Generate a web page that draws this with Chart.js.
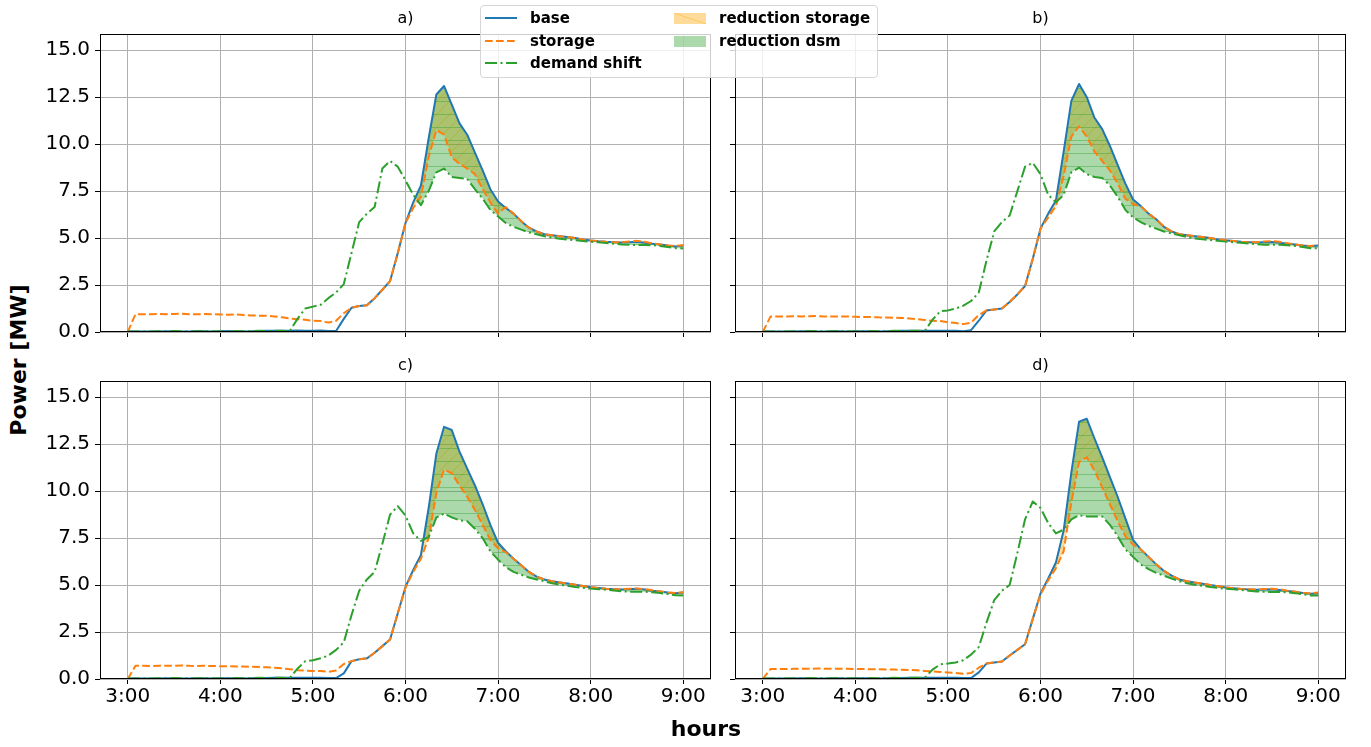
<!DOCTYPE html>
<html>
<head>
<meta charset="utf-8">
<script src="https://cdn.jsdelivr.net/npm/chart.js@4/dist/chart.umd.min.js"></script>
<style>
  body { margin: 0; background: #fff; }
  #fig { position: relative; width: 1371px; height: 747px; overflow: hidden; font-family: "DejaVu Sans", sans-serif; }
  #fig canvas { position: absolute; }
  .sup { position: absolute; font-weight: bold; font-size: 22px; color: #000; white-space: nowrap; }
  #legend { position: absolute; left: 480px; top: 5px; width: 396px; height: 71px; border: 1px solid #d6d6d6; border-radius: 4px; background: rgba(255,255,255,0.8); z-index: 5; }
  .item { position: absolute; font-weight: bold; font-size: 15px; color: #000; white-space: nowrap; line-height: 18px; }
  .item svg, .item span.patch { position: absolute; top: 4px; }
  .item span.txt { position: absolute; }
</style>
</head>
<body>
<div id="fig">
  <canvas id="chartA"></canvas>
  <canvas id="chartB"></canvas>
  <canvas id="chartC"></canvas>
  <canvas id="chartD"></canvas>
  <div class="sup" style="left:706px; top:728px; transform:translate(-50%,-50%);">hours</div>
  <div class="sup" style="left:18px; top:360px; transform:translate(-50%,-50%) rotate(-90deg);">Power [MW]</div>
  <div id="legend"></div>
</div>
<script>
// sampling: every 5 minutes from 3:00 to 9:00
const times = Array.from({ length: 73 }, (_, i) => 3 + i * 5 / 60);
const hourTicks = [3, 4, 5, 6, 7, 8, 9];
const hourLabels = ['3:00', '4:00', '5:00', '6:00', '7:00', '8:00', '9:00'];
const powerTicks = [0, 2.5, 5, 7.5, 10, 12.5, 15];
const powerLabels = ['0.0', '2.5', '5.0', '7.5', '10.0', '12.5', '15.0'];
const seriesNames = ['base', 'storage', 'demand shift'];
const fillNames = ['reduction storage', 'reduction dsm'];
const panelTitles = ['a)', 'b)', 'c)', 'd)'];

const baseA = [
  0.02, 0.02, 0.03, 0.02, 0.03, 0.04, 0.03, 0.02, 0.03, 0.05, 0.04, 0.03,
  0.04, 0.05, 0.04, 0.03, 0.04, 0.05, 0.06, 0.07, 0.06, 0.07, 0.08, 0.07,
  0.06, 0.08, 0.05, 0.05, 0.7, 1.29, 1.38, 1.42, 1.8, 2.25, 2.71, 4.2,
  5.8, 6.9, 7.8, 10.3, 12.64, 13.09, 12.1, 11.1, 10.5, 9.55, 8.6, 7.6,
  6.95, 6.6, 6.3, 5.9, 5.55, 5.35, 5.2, 5.15, 5.1, 5.05, 5.0, 4.92,
  4.87, 4.83, 4.8, 4.78, 4.76, 4.78, 4.8, 4.75, 4.7, 4.66, 4.6, 4.55, 4.6];
const storageA = [
  0, 0.95, 0.95, 0.94, 0.96, 0.95, 0.96, 0.97, 0.95, 0.94, 0.96, 0.95,
  0.93, 0.92, 0.93, 0.9, 0.88, 0.87, 0.86, 0.83, 0.78, 0.72, 0.68, 0.65,
  0.6, 0.58, 0.5, 0.6, 1.0, 1.29, 1.38, 1.42, 1.8, 2.25, 2.71, 4.2,
  5.8, 6.6, 7.2, 9.3, 10.75, 10.5, 9.3, 8.95, 8.7, 8.4, 7.6, 6.9,
  6.3, 6.65, 6.3, 5.9, 5.55, 5.35, 5.2, 5.15, 5.1, 5.05, 5.0, 4.92,
  4.87, 4.83, 4.8, 4.78, 4.78, 4.82, 4.85, 4.8, 4.72, 4.66, 4.6, 4.58, 4.62];
const dsmA = [
  0.02, 0.03, 0.02, 0.03, 0.04, 0.03, 0.05, 0.04, 0.03, 0.04, 0.05, 0.04,
  0.03, 0.04, 0.05, 0.04, 0.05, 0.06, 0.05, 0.06, 0.07, 0.05, 0.7, 1.25,
  1.35, 1.45, 1.8, 2.1, 2.55, 4.2, 5.85, 6.3, 6.65, 8.7, 9.1, 8.8,
  8.07, 7.3, 6.75, 7.5, 8.5, 8.7, 8.25, 8.2, 8.15, 7.6, 7.1, 6.5,
  6.15, 5.8, 5.6, 5.45, 5.3, 5.2, 5.1, 5.02, 4.96, 4.92, 4.88, 4.84,
  4.8, 4.77, 4.74, 4.7, 4.66, 4.64, 4.63, 4.63, 4.62, 4.58, 4.52, 4.46, 4.45];

const baseB = [
  0.02, 0.02, 0.03, 0.02, 0.03, 0.04, 0.03, 0.02, 0.03, 0.04, 0.04, 0.03,
  0.04, 0.04, 0.04, 0.03, 0.04, 0.05, 0.06, 0.06, 0.06, 0.07, 0.07, 0.06,
  0.06, 0.07, 0.04, 0.1, 0.6, 1.15, 1.2, 1.25, 1.6, 2.0, 2.45, 3.9,
  5.5, 6.3, 7.0, 9.6, 12.3, 13.2, 12.5, 11.4, 10.8, 9.9, 8.9, 7.9,
  7.05, 6.7, 6.3, 6.0, 5.6, 5.35, 5.2, 5.15, 5.1, 5.05, 5.0, 4.93,
  4.88, 4.84, 4.8, 4.78, 4.76, 4.77, 4.79, 4.75, 4.7, 4.66, 4.6, 4.56, 4.6];
const storageB = [
  0, 0.82, 0.83, 0.82, 0.84, 0.83, 0.84, 0.85, 0.83, 0.82, 0.83, 0.82,
  0.81, 0.8, 0.8, 0.78, 0.77, 0.76, 0.75, 0.72, 0.68, 0.64, 0.6, 0.58,
  0.52, 0.48, 0.42, 0.5, 0.9, 1.15, 1.2, 1.25, 1.6, 2.0, 2.45, 3.9,
  5.5, 6.1, 6.7, 8.3, 10.4, 10.95, 10.4, 9.6, 9.1, 8.6, 7.9, 7.1,
  6.8, 6.7, 6.3, 6.0, 5.6, 5.35, 5.2, 5.15, 5.1, 5.05, 5.0, 4.93,
  4.88, 4.84, 4.8, 4.78, 4.78, 4.82, 4.84, 4.8, 4.72, 4.66, 4.6, 4.58, 4.62];
const dsmB = [
  0.02, 0.03, 0.02, 0.03, 0.04, 0.03, 0.05, 0.04, 0.03, 0.04, 0.05, 0.04,
  0.03, 0.04, 0.05, 0.04, 0.05, 0.06, 0.05, 0.06, 0.07, 0.05, 0.65, 1.1,
  1.15, 1.25, 1.4, 1.65, 2.1, 3.8, 5.35, 5.85, 6.2, 7.5, 8.8, 9.0,
  8.4, 7.3, 6.9, 7.3, 8.5, 8.75, 8.4, 8.25, 8.2, 7.8, 7.2, 6.5,
  6.1, 5.85, 5.65, 5.5, 5.35, 5.25, 5.15, 5.05, 4.98, 4.93, 4.89, 4.85,
  4.81, 4.78, 4.75, 4.71, 4.67, 4.65, 4.64, 4.64, 4.62, 4.58, 4.52, 4.46, 4.45];

const baseC = [
  0.02, 0.02, 0.03, 0.02, 0.03, 0.04, 0.03, 0.02, 0.03, 0.04, 0.04, 0.03,
  0.04, 0.04, 0.04, 0.03, 0.04, 0.05, 0.05, 0.06, 0.06, 0.06, 0.07, 0.06,
  0.06, 0.07, 0.05, 0.05, 0.3, 0.95, 1.05, 1.1, 1.4, 1.75, 2.1, 3.5,
  4.9, 5.8, 6.6, 9.1, 12.0, 13.42, 13.25, 12.1, 11.2, 10.3, 9.3, 8.2,
  7.25, 6.8, 6.4, 6.05, 5.7, 5.45, 5.3, 5.2, 5.14, 5.08, 5.02, 4.95,
  4.88, 4.84, 4.8, 4.78, 4.76, 4.78, 4.8, 4.76, 4.7, 4.66, 4.6, 4.56, 4.6];
const storageC = [
  0, 0.7, 0.7, 0.69, 0.7, 0.71, 0.7, 0.72, 0.7, 0.69, 0.7, 0.69,
  0.68, 0.68, 0.67, 0.66, 0.65, 0.64, 0.62, 0.6, 0.57, 0.52, 0.47, 0.45,
  0.43, 0.42, 0.38, 0.45, 0.8, 0.95, 1.05, 1.1, 1.4, 1.75, 2.1, 3.5,
  4.85, 5.7, 6.4, 7.5, 9.9, 11.15, 10.95, 10.3, 9.7, 9.0, 8.2, 7.4,
  6.95, 6.75, 6.4, 6.05, 5.7, 5.45, 5.3, 5.2, 5.14, 5.08, 5.02, 4.95,
  4.88, 4.84, 4.8, 4.78, 4.78, 4.8, 4.82, 4.78, 4.72, 4.66, 4.6, 4.58, 4.62];
const dsmC = [
  0.02, 0.03, 0.02, 0.03, 0.04, 0.03, 0.05, 0.04, 0.03, 0.04, 0.05, 0.04,
  0.03, 0.04, 0.05, 0.04, 0.05, 0.06, 0.05, 0.06, 0.07, 0.05, 0.55, 0.95,
  1.0, 1.1, 1.25, 1.55, 1.95, 3.4, 4.7, 5.3, 5.7, 7.2, 8.75, 9.2,
  8.7, 7.75, 7.35, 7.55, 8.6, 8.8, 8.6, 8.45, 8.4, 8.0, 7.5, 6.8,
  6.35, 5.95, 5.7, 5.55, 5.4, 5.3, 5.2, 5.1, 5.02, 4.96, 4.9, 4.85,
  4.81, 4.78, 4.75, 4.71, 4.67, 4.65, 4.64, 4.64, 4.62, 4.58, 4.52, 4.46, 4.45];

const baseD = [
  0.02, 0.02, 0.03, 0.02, 0.03, 0.04, 0.03, 0.02, 0.03, 0.04, 0.04, 0.03,
  0.04, 0.04, 0.04, 0.03, 0.04, 0.05, 0.05, 0.06, 0.06, 0.06, 0.07, 0.06,
  0.06, 0.07, 0.05, 0.05, 0.35, 0.82, 0.88, 0.93, 1.25, 1.55, 1.85, 3.2,
  4.55, 5.35, 6.2, 7.9, 11.0, 13.7, 13.85, 12.8, 11.8, 10.75, 9.7, 8.55,
  7.4, 6.9, 6.5, 6.1, 5.75, 5.5, 5.3, 5.2, 5.13, 5.07, 5.01, 4.94,
  4.87, 4.83, 4.79, 4.77, 4.75, 4.76, 4.77, 4.74, 4.69, 4.64, 4.58, 4.54, 4.57];
const storageD = [
  0, 0.53, 0.54, 0.53, 0.54, 0.55, 0.54, 0.56, 0.55, 0.54, 0.55, 0.54,
  0.53, 0.53, 0.52, 0.52, 0.51, 0.5, 0.49, 0.48, 0.46, 0.43, 0.4, 0.37,
  0.35, 0.32, 0.28, 0.32, 0.6, 0.82, 0.88, 0.93, 1.25, 1.55, 1.85, 3.2,
  4.5, 5.25, 5.9, 6.8, 9.4, 11.55, 11.8, 11.1, 10.2, 9.3, 8.4, 7.6,
  7.15, 6.9, 6.5, 6.1, 5.75, 5.5, 5.3, 5.2, 5.13, 5.07, 5.01, 4.94,
  4.87, 4.83, 4.79, 4.77, 4.76, 4.79, 4.8, 4.77, 4.7, 4.64, 4.58, 4.56, 4.6];
const dsmD = [
  0.02, 0.03, 0.02, 0.03, 0.04, 0.03, 0.05, 0.04, 0.03, 0.04, 0.05, 0.04,
  0.03, 0.04, 0.05, 0.04, 0.05, 0.06, 0.05, 0.06, 0.07, 0.05, 0.5, 0.78,
  0.82, 0.88, 1.0, 1.3, 1.7, 3.0, 4.2, 4.7, 5.0, 6.7, 8.5, 9.45,
  9.1, 8.3, 7.75, 7.95, 8.5, 8.72, 8.65, 8.65, 8.65, 8.2, 7.6, 6.9,
  6.5, 6.1, 5.85, 5.65, 5.5, 5.35, 5.2, 5.1, 5.02, 4.96, 4.9, 4.85,
  4.8, 4.77, 4.74, 4.7, 4.66, 4.64, 4.63, 4.63, 4.61, 4.57, 4.51, 4.45, 4.44];

const FONT = '"DejaVu Sans", sans-serif';
const BLUE = '#1f77b4', ORANGE = '#ff7f0e', GREEN = '#2ca02c';
const ORANGE_FILL = 'rgba(255,165,0,0.4)', GREEN_FILL = 'rgba(44,160,44,0.4)';
const DASH = [7.7, 3.3], DASHDOT = [12, 3.5, 2, 3.5];

const PLOT_W = 611, PLOT_H = 298;
const Y_MAX = 15.86;
const panels = [
  { id: 'chartA', left: 100, top: 34, title: panelTitles[0], base: baseA, storage: storageA, dsm: dsmA, showX: false, showY: true },
  { id: 'chartB', left: 735, top: 34, title: panelTitles[1], base: baseB, storage: storageB, dsm: dsmB, showX: false, showY: false },
  { id: 'chartC', left: 100, top: 381, title: panelTitles[2], base: baseC, storage: storageC, dsm: dsmC, showX: true, showY: true },
  { id: 'chartD', left: 735, top: 381, title: panelTitles[3], base: baseD, storage: storageD, dsm: dsmD, showX: true, showY: false }
];

function hatch(ctx, fill, kind) {
  const s = 13;
  const c = document.createElement('canvas');
  c.width = s; c.height = s;
  const g = c.getContext('2d');
  g.fillStyle = fill;
  g.fillRect(0, 0, s, s);
  g.strokeStyle = fill;
  g.lineWidth = 1;
  g.beginPath();
  if (kind === '-') {
    g.moveTo(0, 6.5); g.lineTo(s, 6.5);
  } else {
    g.moveTo(0, s); g.lineTo(s, 0);
    g.moveTo(-2, 2); g.lineTo(2, -2);
    g.moveTo(s - 2, s + 2); g.lineTo(s + 2, s - 2);
  }
  g.stroke();
  return ctx.createPattern(c, 'repeat');
}

// axes frame + subplot title centred on the plot area
const framePlugin = {
  id: 'frame',
  afterDraw(chart, args, opts) {
    const { ctx, chartArea: a } = chart;
    ctx.save();
    ctx.strokeStyle = '#000';
    ctx.lineWidth = 1;
    ctx.strokeRect(Math.round(a.left) + 0.5, Math.round(a.top) + 0.5,
      Math.round(a.right - a.left) - 1, Math.round(a.bottom - a.top) - 1);
    ctx.fillStyle = '#000';
    ctx.font = '16px ' + FONT;
    ctx.textAlign = 'center';
    ctx.textBaseline = 'middle';
    ctx.fillText(opts.text, (a.left + a.right) / 2, a.top - 15);
    ctx.restore();
  }
};

const toPoints = vals => times.map((t, i) => ({ x: t, y: vals[i] }));

function makeChart(p) {
  const yW = p.showY ? 60 : 10;
  const xH = p.showX ? 40 : 20;
  const titleH = 30, padR = 4;
  const canvas = document.getElementById(p.id);
  canvas.width = yW + PLOT_W + padR;
  canvas.height = titleH + PLOT_H + xH;
  canvas.style.left = (p.left - yW) + 'px';
  canvas.style.top = (p.top - titleH) + 'px';
  const ctx = canvas.getContext('2d');

  const line = (label, vals, color, dash) => ({
    label: label,
    data: toPoints(vals),
    borderColor: color,
    borderWidth: 2,
    borderDash: dash,
    borderCapStyle: 'butt',
    borderJoinStyle: 'round',
    pointRadius: 0,
    tension: 0,
    fill: false
  });
  const area = (label, target, pattern) => ({
    label: label,
    data: toPoints(p.base),
    borderColor: 'rgba(0,0,0,0)',
    borderWidth: 0,
    pointRadius: 0,
    tension: 0,
    fill: { target: target, above: pattern, below: 'rgba(0,0,0,0)' }
  });

  const grid = { color: '#b0b0b0', lineWidth: 1, drawTicks: true, tickLength: 5, tickColor: '#000' };

  return new Chart(ctx, {
    type: 'line',
    data: {
      datasets: [
        line(seriesNames[2], p.dsm, GREEN, DASHDOT),
        line(seriesNames[1], p.storage, ORANGE, DASH),
        line(seriesNames[0], p.base, BLUE, []),
        area(fillNames[1], 0, hatch(ctx, GREEN_FILL, '-')),
        area(fillNames[0], 1, hatch(ctx, ORANGE_FILL, '/'))
      ]
    },
    options: {
      responsive: false,
      animation: false,
      events: [],
      layout: { padding: { left: 0, right: padR, top: titleH, bottom: 0 } },
      plugins: {
        legend: { display: false },
        tooltip: { enabled: false },
        title: { display: false },
        frame: { text: p.title }
      },
      scales: {
        x: {
          type: 'linear',
          min: 2.7,
          max: 9.3,
          grid: grid,
          border: { display: false },
          afterBuildTicks: s => { s.ticks = hourTicks.map(v => ({ value: v })); },
          afterFit: s => { s.height = xH; },
          ticks: {
            display: p.showX,
            autoSkip: false,
            maxRotation: 0,
            padding: 1,
            color: '#000',
            font: { family: FONT, size: 20 },
            callback: v => hourLabels[hourTicks.indexOf(v)]
          }
        },
        y: {
          type: 'linear',
          min: 0,
          max: Y_MAX,
          grid: grid,
          border: { display: false },
          afterBuildTicks: s => { s.ticks = powerTicks.map(v => ({ value: v })); },
          afterFit: s => { s.width = yW; },
          ticks: {
            display: p.showY,
            padding: 5,
            color: '#000',
            font: { family: FONT, size: 20 },
            callback: v => powerLabels[powerTicks.indexOf(v)]
          }
        }
      }
    },
    plugins: [framePlugin]
  });
}

panels.forEach(makeChart);

// legend
const legend = document.getElementById('legend');
const sample = (color, dash) =>
  `<svg width="32" height="10"><line x1="0" y1="5" x2="32" y2="5" stroke="${color}" stroke-width="2" stroke-dasharray="${dash.join(' ')}"/></svg>`;
const rows = [
  { col: 0, row: 0, icon: sample(BLUE, []), text: seriesNames[0] },
  { col: 0, row: 1, icon: sample(ORANGE, DASH), text: seriesNames[1] },
  { col: 0, row: 2, icon: sample(GREEN, DASHDOT), text: seriesNames[2] },
  { col: 1, row: 0, icon: `<span class="patch" style="width:32px;height:11px;background:linear-gradient(to top right, rgba(0,0,0,0) 46%, rgba(255,165,0,0.4) 50%, rgba(0,0,0,0) 54%), ${ORANGE_FILL};"></span>`, text: fillNames[0] },
  { col: 1, row: 1, icon: `<span class="patch" style="width:32px;height:11px;background:${GREEN_FILL};"></span>`, text: fillNames[1] }
];
rows.forEach(r => {
  const d = document.createElement('div');
  d.className = 'item';
  d.style.left = (r.col === 0 ? 4 : 193) + 'px';
  d.style.top = (3 + r.row * 22.5) + 'px';
  d.innerHTML = r.icon + `<span class="txt" style="left:45px">${r.text}</span>`;
  legend.appendChild(d);
});
</script>
</body>
</html>
